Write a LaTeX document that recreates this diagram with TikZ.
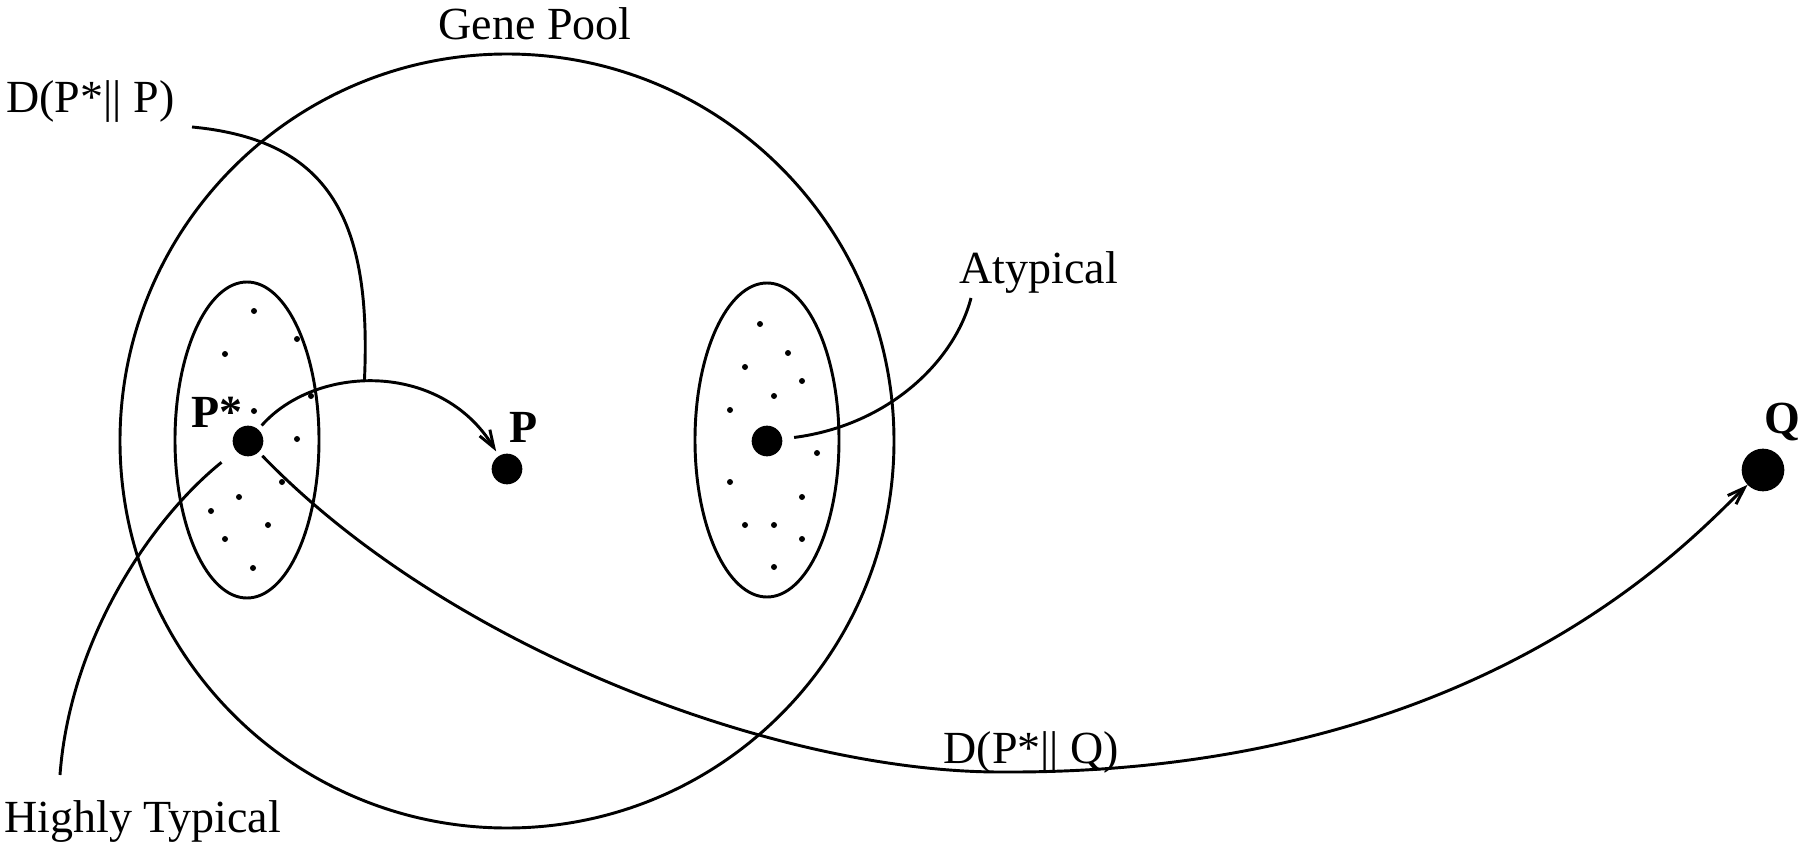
\documentclass[tikz,border=0pt]{standalone}
\usepackage{fontspec}
\setmainfont{Liberation Serif}
\usetikzlibrary{arrows.meta}

\tikzset{
  ptdot/.style={circle,fill=black,inner sep=0pt,minimum size=23pt,outer sep=4pt},
  qdot/.style={ptdot,minimum size=32pt,outer sep=0pt},
  txt/.style={anchor=base west,inner sep=0pt,font=\fontsize{34.5}{40}\selectfont},
  ptxt/.style={txt,font=\fontsize{34.5}{40}\selectfont\bfseries},
  barb/.style={-{Straight Barb[length=13pt,width=9pt]}}
}

\begin{document}
\begin{tikzpicture}[x=0.75pt,y=0.75pt,yscale=-1,xscale=1,line width=2.2pt]
\useasboundingbox (0,0) rectangle (1800,845);

%Gene pool and the two sets
\draw (507,441) circle (387);
\draw (247,440) ellipse (72 and 158);
\draw (767,440) ellipse (72 and 157);

%Scattered points
\foreach \x/\y in {254/311,297/339,225/354,311/396,254/411,297/439,282/482,239/497,211/511,268/525,225/539,253/568}
  \fill (\x,\y) circle (3);
\foreach \x/\y in {760/324,788/353,745/367,802/381,774/396,730/410,817/453,730/482,802/497,745/525,774/525,802/539,774/567}
  \fill (\x,\y) circle (3);

%Distributions
\node[ptdot] (pstar) at (248,441) {};
\node[ptdot] (p) at (507,469) {};
\node[ptdot] (atyp) at (767,441) {};
\node[qdot] (q) at (1763,470) {};

%Text nodes
\node[txt] (genepool) at (437,40) {Gene Pool};
\node[txt] (dpp) at (5,113) {D(P*|| P)};
\node[txt] (dpq) at (942,763) {D(P*|| Q)};
\node[txt] (atyplbl) at (958,283) {Atypical};
\node[txt] (htyp) at (3,832) {Highly Typical};
\node[ptxt] (pstarlbl) at (190,427) {P*};
\node[ptxt] (plbl) at (508,442) {P};
\node[ptxt] (qlbl) at (1763,433) {Q};

%Leader ends
\coordinate (dpptail) at (192,127);
\coordinate (atyptail) at (971,298);
\coordinate (htyptail) at (60,775);
\coordinate (qlow) at (1000,772);

%Arrows
\draw[barb] (pstar) .. controls (315,365) and (440,360) .. coordinate[pos=0.45] (arctop) (p);
\draw[barb] (pstar) .. controls (450,650) and (780,772) .. (qlow)
  .. controls (1480,775) and (1690,540) .. (q);

%Leaders
\draw (dpptail) .. controls (330,140) and (372,220) .. (arctop);
\draw[shorten >=5pt] (atyptail) .. controls (955,360) and (890,425) .. (atyp);
\draw[shorten >=10pt] (htyptail) .. controls (70,640) and (150,520) .. (pstar);

\end{tikzpicture}
\end{document}
